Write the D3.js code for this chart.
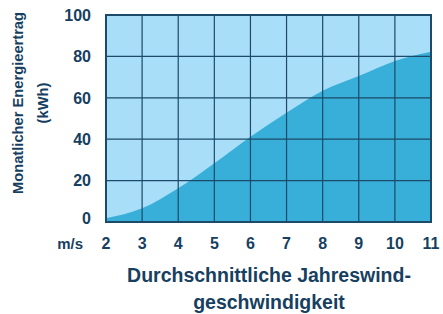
<!DOCTYPE html>
<html>
<head>
<meta charset="utf-8">
<script src="https://cdn.jsdelivr.net/npm/d3@7"></script>
<style>
  body { margin: 0; background: #fff; }
  text { font-family: "Liberation Sans", Arial, sans-serif; fill: #173f5f; font-weight: bold; }
</style>
</head>
<body>
<div id="chart"></div>
<script>
// data
const windSpeeds = [2, 3, 4, 5, 6, 7, 8, 9, 10, 11];
const energy     = [1.8, 6.6, 16.3, 28.4, 41.2, 52.8, 63.4, 70.5, 77.8, 82.3];
const yTicks     = [0, 20, 40, 60, 80, 100];

const W = 443, H = 314;
const margin = { top: 15, right: 12, bottom: 92, left: 106 },
      width  = W - margin.left - margin.right,
      height = H - margin.top - margin.bottom;

const svg = d3.select("#chart")
  .append("svg")
    .attr("width", W)
    .attr("height", H);

const g = svg.append("g")
  .attr("transform", `translate(${margin.left},${margin.top})`);

const x = d3.scaleLinear().domain([2, 11]).range([0, width]);
const y = d3.scaleLinear().domain([0, 100]).range([height, 0]);

// latar terang
g.append("rect")
  .attr("width", width).attr("height", height)
  .attr("fill", "#a9def8");

// area bawah kurva
const data = windSpeeds.map((s, i) => ({ s, e: energy[i] }));
const area = d3.area()
  .curve(d3.curveMonotoneX)
  .x(d => x(d.s))
  .y0(height)
  .y1(d => y(d.e));

g.append("path")
  .datum(data)
  .attr("fill", "#37afd8")
  .attr("d", area);

// grid
g.append("g")
  .selectAll("line")
  .data(windSpeeds.slice(1, -1))
  .join("line")
    .attr("x1", d => x(d)).attr("x2", d => x(d))
    .attr("y1", 0).attr("y2", height)
    .attr("stroke", "#1c4a68").attr("stroke-width", 1.2);

g.append("g")
  .selectAll("line")
  .data(yTicks.slice(1, -1))
  .join("line")
    .attr("x1", 0).attr("x2", width)
    .attr("y1", d => y(d)).attr("y2", d => y(d))
    .attr("stroke", "#1c4a68").attr("stroke-width", 1.2);

// bingkai
g.append("rect")
  .attr("width", width).attr("height", height)
  .attr("fill", "none")
  .attr("stroke", "#1c4a68").attr("stroke-width", 2);

// label sumbu y
g.append("g")
  .selectAll("text")
  .data(yTicks)
  .join("text")
    .attr("x", -15)
    .attr("y", d => y(d) - (d === 0 ? 4 : 0))
    .attr("dy", "0.36em")
    .attr("text-anchor", "end")
    .attr("font-size", 16)
    .text(d => d);

// label sumbu x
g.append("g")
  .selectAll("text")
  .data(windSpeeds)
  .join("text")
    .attr("x", d => x(d))
    .attr("y", height + 27)
    .attr("text-anchor", "middle")
    .attr("font-size", 16)
    .text(d => d);

g.append("text")
  .attr("x", -23)
  .attr("y", height + 27)
  .attr("text-anchor", "end")
  .attr("font-size", 15)
  .text("m/s");

// judul sumbu x
const xt = svg.append("text")
  .attr("x", 269)
  .attr("y", 282)
  .attr("text-anchor", "middle")
  .attr("font-size", 19.5);
xt.append("tspan").attr("x", 269).text("Durchschnittliche Jahreswind-");
xt.append("tspan").attr("x", 269).attr("dy", 27).text("geschwindigkeit");

// judul sumbu y
const yt = svg.append("text")
  .attr("transform", "translate(22.5,103) rotate(-90)")
  .attr("text-anchor", "middle")
  .attr("font-size", 14.7);
yt.append("tspan").attr("x", 0).attr("y", 0).text("Monatlicher Energieertrag");
yt.append("tspan").attr("x", 0).attr("dy", 25).text("(kWh)");
</script>
</body>
</html>
